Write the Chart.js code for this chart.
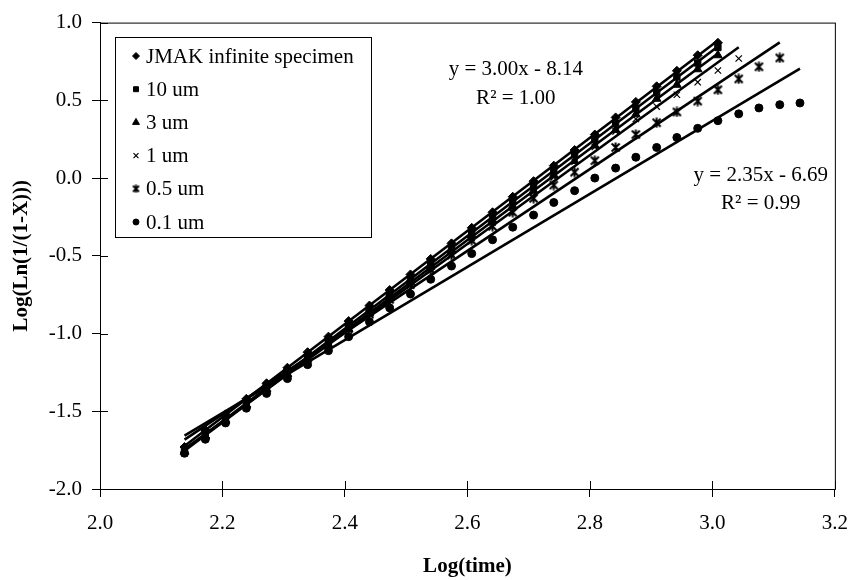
<!DOCTYPE html>
<html>
<head>
<meta charset="utf-8">
<script src="https://cdn.jsdelivr.net/npm/chart.js@4.4.0/dist/chart.umd.min.js"></script>
<style>
    html, body { margin: 0; padding: 0; background: #fff; }
    #wrap { width: 862px; height: 580px; }
</style>
</head>
<body>
<div id="wrap"><canvas id="graph"></canvas></div>
<script>
const logTime = [2.138, 2.172, 2.205, 2.239, 2.272, 2.306, 2.339, 2.373, 2.406, 2.440, 2.473,
    2.507, 2.540, 2.574, 2.607, 2.641, 2.674, 2.708, 2.741, 2.775, 2.808, 2.842,
    2.875, 2.909, 2.942, 2.976, 3.009, 3.043, 3.076, 3.110, 3.143];

const jmak = [-1.73, -1.62, -1.52, -1.42, -1.32, -1.22, -1.12, -1.02, -0.92, -0.82, -0.72,
    -0.62, -0.52, -0.42, -0.32, -0.22, -0.12, -0.02, 0.08, 0.18, 0.28, 0.39,
    0.49, 0.59, 0.69, 0.79, 0.87];
const um10 = [-1.75, -1.65, -1.55, -1.45, -1.35, -1.25, -1.15, -1.05, -0.95, -0.85, -0.75,
    -0.65, -0.55, -0.45, -0.35, -0.25, -0.15, -0.05, 0.05, 0.15, 0.25, 0.35,
    0.45, 0.55, 0.65, 0.74, 0.84];
const um3 = [-1.76, -1.66, -1.56, -1.46, -1.36, -1.26, -1.16, -1.07, -0.97, -0.87, -0.77,
    -0.67, -0.57, -0.47, -0.37, -0.27, -0.18, -0.08, 0.02, 0.11, 0.21, 0.31,
    0.41, 0.51, 0.60, 0.70, 0.79];
const um1 = [-1.77, -1.67, -1.57, -1.47, -1.37, -1.27, -1.17, -1.07, -0.975, -0.875, -0.78,
    -0.68, -0.58, -0.485, -0.385, -0.285, -0.19, -0.09, 0.005, 0.105, 0.20, 0.30,
    0.38, 0.46, 0.536, 0.617, 0.692, 0.769];
const um05 = [-1.75, -1.65, -1.55, -1.45, -1.35, -1.255, -1.16, -1.065, -0.97, -0.875, -0.78,
    -0.685, -0.59, -0.495, -0.40, -0.31, -0.22, -0.13, -0.045, 0.038, 0.112, 0.197,
    0.28, 0.356, 0.425, 0.495, 0.568, 0.638, 0.716, 0.773];
const um01 = [-1.77, -1.68, -1.575, -1.48, -1.385, -1.29, -1.20, -1.11, -1.02, -0.925, -0.835,
    -0.746, -0.651, -0.566, -0.486, -0.397, -0.316, -0.238, -0.157, -0.081, 0.000, 0.064,
    0.134, 0.197, 0.261, 0.320, 0.369, 0.413, 0.451, 0.472, 0.483];

const seriesNames = ['JMAK infinite specimen', '10 um', '3 um', '1 um', '0.5 um', '0.1 um'];
const seriesValues = [jmak, um10, um3, um1, um05, um01];

const xTicks = [2.0, 2.2, 2.4, 2.6, 2.8, 3.0, 3.2];
const yTicks = [-2.0, -1.5, -1.0, -0.5, 0.0, 0.5, 1.0];

// equation labels: text lines, anchor in data units
const fitLabels = [
    { lines: ['y = 3.00x - 8.14', 'R\u00B2 = 1.00'], x: 2.679, y: [0.70, 0.515] },
    { lines: ['y = 2.35x - 6.69', 'R\u00B2 = 0.99'], x: 3.079, y: [0.015, -0.163] }
];

const FONT = "'Liberation Serif', 'Times New Roman', serif";

// marqueur "étoile" façon Excel : une croix avec un trait vertical
const makeStar = (size, lw) => {
    const c = document.createElement('canvas');
    c.width = size; c.height = size;
    const g = c.getContext('2d');
    g.strokeStyle = '#000';
    g.lineWidth = lw;
    const m = 1.5, e = size - 1.5, h = size / 2;
    g.beginPath();
    g.moveTo(m, m); g.lineTo(e, e);
    g.moveTo(e, m); g.lineTo(m, e);
    g.moveTo(h, 0.5); g.lineTo(h, size - 0.5);
    g.stroke();
    return c;
};
const starBig = makeStar(11, 2);
const starSmall = makeStar(9, 1.8);

const markerStyles = ['rectRot', 'rect', 'triangle', 'crossRot', starBig, 'circle'];
const legendStyles = ['rectRot', 'rect', 'triangle', 'crossRot', starSmall, 'circle'];
const markerRadius = [4.5, 4.5, 5, 4.5, 5, 4];
const markerBorder = [1, 1, 1, 1.2, 2, 1];

// droite des moindres carrés (comme la courbe de tendance d'Excel)
const linearFit = (xs, ys) => {
    const n = ys.length;
    let sx = 0, sy = 0, sxx = 0, sxy = 0;
    for (let i = 0; i < n; i++) {
        sx += xs[i]; sy += ys[i]; sxx += xs[i] * xs[i]; sxy += xs[i] * ys[i];
    }
    const b = (n * sxy - sx * sy) / (n * sxx - sx * sx);
    const a = (sy - b * sx) / n;
    return { a, b, x0: xs[0], x1: xs[n - 1] };
};

let datasets = [];
seriesValues.forEach((vals, i) => {
    const f = linearFit(logTime, vals);
    datasets.push({
        label: seriesNames[i] + ' fit',
        type: 'line',
        data: [{ x: f.x0, y: f.a + f.b * f.x0 }, { x: f.x1, y: f.a + f.b * f.x1 }],
        borderColor: '#000',
        borderWidth: 2.6,
        pointRadius: 0,
        fill: false,
        order: 0
    });
});
seriesValues.forEach((vals, i) => {
    datasets.push({
        label: seriesNames[i],
        data: vals.map((v, k) => ({ x: logTime[k], y: v })),
        showLine: false,
        pointStyle: markerStyles[i],
        pointRadius: markerRadius[i],
        pointBorderWidth: markerBorder[i],
        pointBackgroundColor: '#000',
        pointBorderColor: '#000',
        order: 1
    });
});

const drawMarker = (ctx, style, r, bw, x, y) => {
    ctx.save();
    ctx.fillStyle = '#000';
    ctx.strokeStyle = '#000';
    ctx.lineWidth = bw;
    Chart.helpers.drawPoint(ctx, { pointStyle: style, radius: r, borderWidth: bw, rotation: 0 }, x, y);
    ctx.restore();
};

const decorPlugin = {
    id: 'decor',
    afterDraw(chart) {
        const ctx = chart.ctx;
        const area = chart.chartArea;
        const sx = chart.scales.x;
        const sy = chart.scales.y;
        ctx.save();
        // cadre de la zone de tracé
        ctx.strokeStyle = '#000';
        ctx.lineWidth = 1;
        ctx.strokeRect(area.left + 0.5, area.top + 0.5, area.right - area.left, area.bottom - area.top);
        // demi-graduations vers l'intérieur
        xTicks.forEach(v => {
            const px = Math.round(sx.getPixelForValue(v)) + 0.5;
            ctx.beginPath();
            ctx.moveTo(px, area.bottom);
            ctx.lineTo(px, area.bottom - 8);
            ctx.stroke();
        });
        yTicks.forEach(v => {
            const py = Math.round(sy.getPixelForValue(v)) + 0.5;
            ctx.beginPath();
            ctx.moveTo(area.left, py);
            ctx.lineTo(area.left + 8, py);
            ctx.stroke();
        });

        // légende
        const box = { left: 115, top: 37, right: 371, bottom: 237 };
        ctx.fillStyle = '#fff';
        ctx.fillRect(box.left, box.top, box.right - box.left, box.bottom - box.top);
        ctx.strokeRect(box.left + 0.5, box.top + 0.5, box.right - box.left, box.bottom - box.top);
        ctx.font = '21px ' + FONT;
        ctx.textBaseline = 'middle';
        ctx.textAlign = 'left';
        seriesNames.forEach((name, i) => {
            const y = 56 + i * 33.2;
            drawMarker(ctx, legendStyles[i], markerRadius[i] - 1, markerBorder[i], 136, y);
            ctx.fillStyle = '#000';
            ctx.fillText(name, 146, y + 1);
        });

        // équations des courbes de tendance
        ctx.textAlign = 'center';
        fitLabels.forEach(lbl => {
            const px = sx.getPixelForValue(lbl.x);
            lbl.lines.forEach((t, k) => {
                ctx.fillText(t, px, sy.getPixelForValue(lbl.y[k]));
            });
        });
        ctx.restore();
    }
};

const tickFont = { family: FONT, size: 21 };
const titleFont = { family: FONT, size: 21, weight: 'bold' };

new Chart(document.getElementById('graph'), {
    type: 'scatter',
    data: { datasets },
    options: {
        responsive: true,
        maintainAspectRatio: false,
        animation: false,
        layout: { padding: { top: 17, right: 19, left: 0, bottom: 0 } },
        plugins: { legend: { display: false }, tooltip: { enabled: false } },
        scales: {
            x: {
                type: 'linear',
                min: 2.0,
                max: 3.2,
                afterBuildTicks: (s) => { s.ticks = xTicks.map(v => ({ value: v })); },
                afterFit: (s) => { s.height = 91; },
                ticks: { color: '#000', font: tickFont, padding: 14, callback: v => v.toFixed(1), maxRotation: 0 },
                grid: { drawOnChartArea: false, drawTicks: true, tickLength: 8, color: '#000' },
                border: { color: '#000', width: 1 },
                title: { display: true, text: 'Log(time)', color: '#000', font: titleFont, padding: { top: 0, bottom: 1 } }
            },
            y: {
                type: 'linear',
                min: -2.0,
                max: 1.0,
                afterBuildTicks: (s) => { s.ticks = yTicks.map(v => ({ value: v })); },
                afterFit: (s) => { s.width = 100; },
                ticks: { color: '#000', font: tickFont, padding: 10, callback: v => v.toFixed(1) },
                grid: { drawOnChartArea: false, drawTicks: true, tickLength: 8, color: '#000' },
                border: { color: '#000', width: 1 },
                title: { display: true, text: 'Log(Ln(1/(1-X)))', color: '#000', font: titleFont, padding: { top: 9, bottom: 0 } }
            }
        }
    },
    plugins: [decorPlugin]
});
</script>
</body>
</html>
